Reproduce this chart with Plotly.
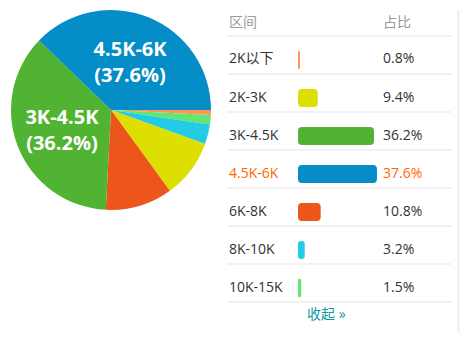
import plotly.graph_objects as go

# ---- data ----
categories = ["2K以下", "2K-3K", "3K-4.5K", "4.5K-6K", "6K-8K", "8K-10K", "10K-15K"]
percents = [0.8, 9.4, 36.2, 37.6, 10.8, 3.2, 1.5]
colors = ["#FF9655", "#DDDF00", "#50B432", "#058DC7", "#ED561B", "#24CBE5", "#64E572"]
header_labels = ["区间", "占比"]
highlight = "4.5K-6K"
footer_text = "收起 »"

W, H = 460, 337
FONT = "Open Sans, Noto Sans CJK SC, sans-serif"

# pie: ascending order, clockwise from 3 o'clock
order = sorted(range(len(percents)), key=lambda i: percents[i])
pie_labels = [categories[i] for i in order]
pie_vals = [percents[i] for i in order]
pie_cols = [colors[i] for i in order]
pie_text = [f"{categories[i]}<br>({percents[i]}%)" if percents[i] > 30 else "" for i in order]

fig = go.Figure()
fig.add_trace(go.Pie(
    labels=pie_labels, values=pie_vals, text=pie_text,
    texttemplate="%{text}", textposition="inside", insidetextorientation="horizontal",
    textfont=dict(family=FONT, size=20, color="white", weight="bold"),
    marker=dict(colors=pie_cols, line=dict(width=0)),
    sort=False, direction="clockwise", rotation=90,
    domain=dict(x=[11 / W, 211 / W], y=[1 - 210 / H, 1 - 10 / H]),
    showlegend=False, hoverinfo="label+percent",
))

# bar table geometry
row_top, row_h = 36, 38
n = len(categories)
bar_x0 = 298
px_per_pct = 2.1
shift = 5
ydom = [1 - (row_top + n * row_h + shift) / H, 1 - (row_top + shift) / H]

fig.add_trace(go.Bar(
    y=categories, x=percents, base=[0] * n, orientation="h",
    marker=dict(color=colors, cornerradius=4, line=dict(width=0)),
    width=18 / row_h, xaxis="x2", yaxis="y2", showlegend=False,
    hoverinfo="skip",
))

annotations = []
shapes = []
# header
for txt, xpx in zip(header_labels, [227, 381]):
    annotations.append(dict(text=txt, x=xpx / W, y=1 - 21 / H, xref="paper", yref="paper",
                            xanchor="left", yanchor="middle", showarrow=False,
                            font=dict(family=FONT, size=14, color="#999999")))
for cat, p in zip(categories, percents):
    col = "#FF6600" if cat == highlight else "#333333"
    for txt, xpx in ((cat, 227), (f"{p}%", 381)):
        annotations.append(dict(text=txt, x=xpx / W, y=cat, xref="paper", yref="y2",
                                xanchor="left", yanchor="middle", showarrow=False, yshift=2,
                                font=dict(family=FONT, size=14, color=col)))
annotations.append(dict(text=footer_text, x=326 / W, y=1 - 313 / H, xref="paper", yref="paper",
                        xanchor="center", yanchor="middle", showarrow=False,
                        font=dict(family=FONT, size=14, color="#0E9AA0")))
for k in range(n + 1):
    ypx = row_top + k * row_h
    shapes.append(dict(type="line", xref="paper", yref="paper", x0=227 / W, x1=451 / W,
                       y0=1 - ypx / H, y1=1 - ypx / H, line=dict(color="#E3E3E3", width=1)))
shapes.append(dict(type="line", xref="paper", yref="paper", x0=458.5 / W, x1=458.5 / W,
                   y0=1 - 10 / H, y1=1 - 333 / H, line=dict(color="#EEEEEE", width=2)))

fig.update_layout(
    width=W, height=H, margin=dict(l=0, r=0, t=0, b=0),
    paper_bgcolor="white", plot_bgcolor="rgba(0,0,0,0)",
    barmode="overlay",
    xaxis2=dict(domain=[bar_x0 / W, 1], range=[0, (W - bar_x0) / px_per_pct],
                visible=False, fixedrange=True, anchor="y2"),
    yaxis2=dict(domain=ydom, autorange="reversed", visible=False, fixedrange=True,
                anchor="x2", type="category"),
    annotations=annotations, shapes=shapes,
    font=dict(family=FONT),
)
fig.write_html("out.html")
